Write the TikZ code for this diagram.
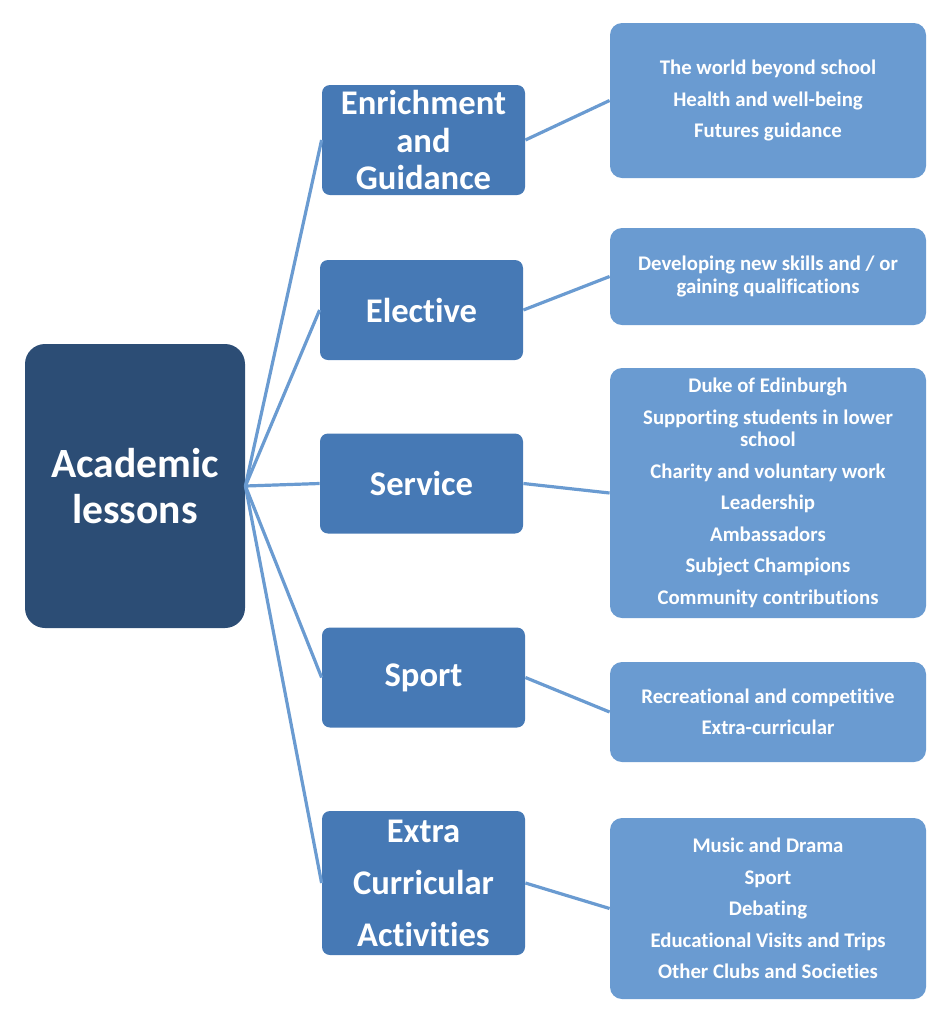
\documentclass[tikz,border=0pt]{standalone}
\usepackage{fontspec}
\setmainfont{Carlito}[Ligatures=CommonOff]
\usetikzlibrary{positioning}
\definecolor{navy}{HTML}{2C4D75}
\definecolor{midblue}{HTML}{4679B5}
\definecolor{lightblue}{HTML}{6A9BD1}
\tikzset{
  rootbox/.style={fill=navy, rounded corners=10pt, text=white, align=center, minimum width=110pt, minimum height=142pt, font=\bfseries\fontsize{20.8}{23}\selectfont},
  midbox/.style={fill=midblue, rounded corners=4pt, text=white, align=center, minimum width=101.5pt, minimum height=50pt, inner sep=0pt, font=\bfseries\fontsize{17.3}{18.75}\selectfont},
  leafbox/.style={fill=lightblue, rounded corners=6pt, text=white, align=center, minimum width=158pt, inner sep=0pt, font=\bfseries\fontsize{10.4}{11.2}\selectfont},
  link/.style={draw=lightblue, line width=1.6pt},
}

\begin{document}
\begin{tikzpicture}[x=0.5pt, y=-0.5pt]
    \useasboundingbox (0,0) rectangle (946,1024);
    % root
    \node[rootbox] (academic) at (135,486) {Academic\\lessons};
    % middle column
    \node[midbox, minimum height=55pt] (enrich) at (423.5,140) {Enrichment\\and\\Guidance};
    \node[midbox] (elective) at (421.5,310) {Elective};
    \node[midbox] (service) at (421.5,483.5) {Service};
    \node[midbox] (sport) at (423.5,677.5) {Sport};
    \node[midbox, minimum height=72pt, font=\bfseries\fontsize{17.3}{26}\selectfont] (extra) at (423.5,883) {Extra\\Curricular\\Activities};
    % right column
    \node[leafbox, minimum height=77.5pt] (beyond) at (768,100.5) {The world beyond school\\[4.55pt]Health and well-being\\[4.55pt]Futures guidance};
    \node[leafbox, minimum height=48.5pt] (skills) at (768,276.5) {Developing new skills and / or\\gaining qualifications};
    \node[leafbox, minimum height=125pt] (duties) at (768,493) {Duke of Edinburgh\\[4.55pt]Supporting students in lower\\school\\[4.55pt]Charity and voluntary work\\[4.55pt]Leadership\\[4.55pt]Ambassadors\\[4.55pt]Subject Champions\\[4.55pt]Community contributions};
    \node[leafbox, minimum height=50pt] (games) at (768,712) {Recreational and competitive\\[4.55pt]Extra-curricular};
    \node[leafbox, minimum height=90.5pt] (clubs) at (768,908.5) {Music and Drama\\[4.55pt]Sport\\[4.55pt]Debating\\[4.55pt]Educational Visits and Trips\\[4.55pt]Other Clubs and Societies};
    % connectors
    \foreach \m in {enrich, elective, service, sport, extra}
        \draw[link] (academic.east) -- (\m.west);
    \draw[link] (enrich.east) -- (beyond.west);
    \draw[link] (elective.east) -- (skills.west);
    \draw[link] (service.east) -- (duties.west);
    \draw[link] (sport.east) -- (games.west);
    \draw[link] (extra.east) -- (clubs.west);
\end{tikzpicture}
\end{document}
